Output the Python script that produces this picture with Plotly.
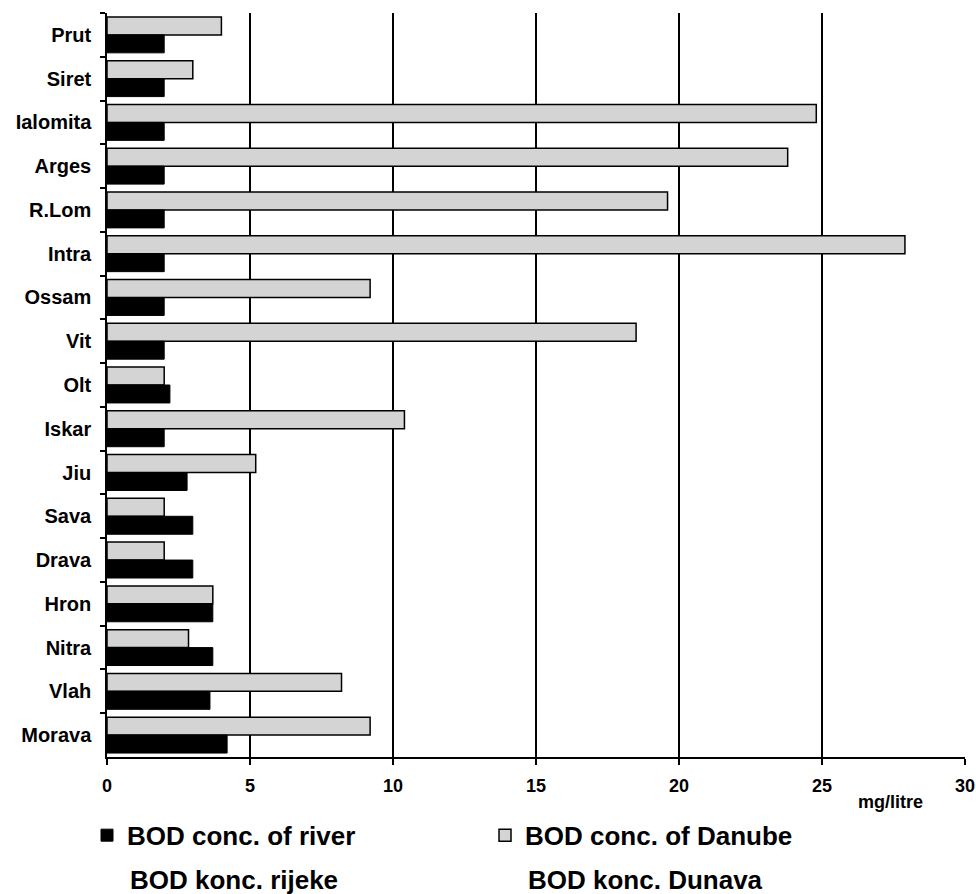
import plotly.graph_objects as go

rivers = ["Prut", "Siret", "Ialomita", "Arges", "R.Lom", "Intra", "Ossam", "Vit", "Olt",
          "Iskar", "Jiu", "Sava", "Drava", "Hron", "Nitra", "Vlah", "Morava"]
bod_danube = [4.0, 3.0, 24.8, 23.8, 19.6, 27.9, 9.2, 18.5, 2.0,
              10.4, 5.2, 2.0, 2.0, 3.7, 2.85, 8.2, 9.2]
bod_river = [2.0, 2.0, 2.0, 2.0, 2.0, 2.0, 2.0, 2.0, 2.2,
             2.0, 2.8, 3.0, 3.0, 3.7, 3.7, 3.6, 4.2]
x_ticks = [0, 5, 10, 15, 20, 25, 30]

FONT = "Liberation Sans, Arial, sans-serif"

fig = go.Figure()
fig.add_trace(go.Bar(
    y=rivers, x=bod_danube, orientation="h", name="BOD conc. of Danube",
    marker=dict(color="#d4d4d4", line=dict(color="#000000", width=1.5)),
    legendrank=2,
))
fig.add_trace(go.Bar(
    y=rivers, x=bod_river, orientation="h", name="BOD conc. of river",
    marker=dict(color="#000000", line=dict(color="#000000", width=1)),
    legendrank=1,
))

fig.update_layout(
    width=976, height=894,
    margin=dict(l=107, r=11, t=13, b=137, autoexpand=False),
    paper_bgcolor="white", plot_bgcolor="white",
    barmode="group", bargap=0.18, bargroupgap=0,
    font=dict(family=FONT, color="#000000"),
    showlegend=True,
    legend=dict(
        orientation="h", x=-0.0233, xanchor="left", y=-0.0736, yanchor="top",
        font=dict(family=FONT, size=26, color="#000000", weight="bold"),
        entrywidth=353, entrywidthmode="pixels",
        bgcolor="rgba(0,0,0,0)", itemclick=False,
    ),
    xaxis=dict(
        range=[0, 30], tickvals=x_ticks, ticktext=[str(v) for v in x_ticks],
        showgrid=True, gridcolor="#000000", gridwidth=1.5,
        showline=True, linecolor="#000000", linewidth=1.5,
        ticks="outside", ticklen=6, tickcolor="#000000", tickwidth=1.5,
        ticklabelstandoff=6, automargin=False,
        tickfont=dict(family=FONT, size=18, color="#000000", weight="bold"),
        zeroline=False, fixedrange=True,
    ),
    yaxis=dict(
        type="category", autorange="reversed",
        showline=True, linecolor="#000000", linewidth=1.5,
        ticks="outside", ticklen=5, tickcolor="#000000", tickwidth=1.5,
        tickson="boundaries", ticklabelstandoff=10, automargin=False,
        tickfont=dict(family=FONT, size=20, color="#000000", weight="bold"),
        showgrid=False, zeroline=False, fixedrange=True,
    ),
    annotations=[
        dict(text="mg/litre", x=(890 - 107) / 858, y=(757 - 802) / 744, xref="paper", yref="paper",
             showarrow=False, xanchor="center", yanchor="middle",
             font=dict(family=FONT, size=18, color="#000000", weight="bold")),
        dict(text="BOD konc. rijeke", x=(128 - 107) / 858, y=(757 - 880) / 744,
             xref="paper", yref="paper", showarrow=False, xanchor="left", yanchor="middle",
             font=dict(family=FONT, size=26, color="#000000", weight="bold")),
        dict(text="BOD konc. Dunava", x=(526 - 107) / 858, y=(757 - 880) / 744,
             xref="paper", yref="paper", showarrow=False, xanchor="left", yanchor="middle",
             font=dict(family=FONT, size=26, color="#000000", weight="bold")),
    ],
)

fig.write_html(
    "out.html",
    config={"displayModeBar": False},
    post_script="document.body.style.margin='0';document.body.style.overflow='hidden';",
)
